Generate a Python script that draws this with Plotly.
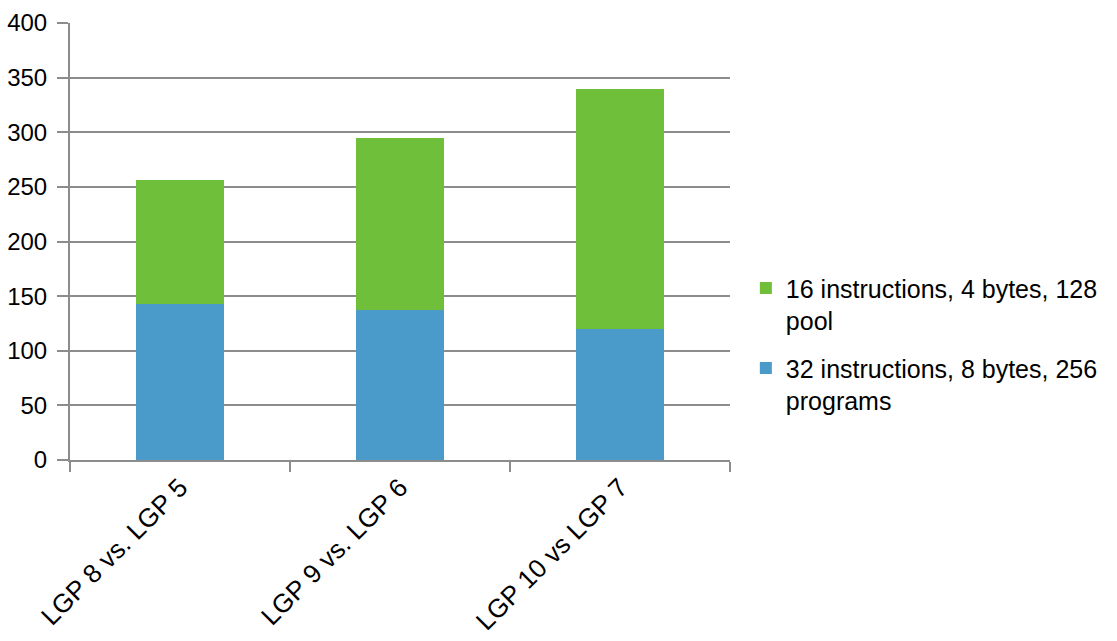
import plotly.graph_objects as go

categories = ["LGP 8 vs. LGP 5", "LGP 9 vs. LGP 6", "LGP 10 vs LGP 7"]
programs_32 = [143, 137, 120]
pool_16 = [113, 158, 220]
name_32 = "32 instructions, 8 bytes, 256<br>programs"
name_16 = "16 instructions, 4 bytes, 128<br>pool"
y_ticks = [0, 50, 100, 150, 200, 250, 300, 350, 400]

BLUE = "#4A9BC9"
GREEN = "#6FBF3A"
GRID = "#8C8C8C"
FONT = "Liberation Sans, Arial, sans-serif"

fig = go.Figure()
fig.add_trace(go.Bar(x=categories, y=programs_32, name=name_32, legendgroup="a",
                     legendrank=2,
                     marker=dict(color=BLUE, line=dict(width=0))))
fig.add_trace(go.Bar(x=categories, y=pool_16, name=name_16, legendgroup="b",
                     legendrank=1,
                     marker=dict(color=GREEN, line=dict(width=0))))

fig.update_layout(
    barmode="stack",
    bargap=0.6,
    width=1117, height=641,
    margin=dict(l=70, r=387, t=23, b=181, pad=0),
    paper_bgcolor="white", plot_bgcolor="white",
    font=dict(family=FONT, size=24, color="#000000"),
    legend=dict(
        x=1.024, xanchor="left", y=0.265, yanchor="middle",
        traceorder="grouped", valign="top",
        font=dict(size=25, family=FONT),
        tracegroupgap=12, itemwidth=30,
    ),
    xaxis=dict(
        type="category",
        automargin=False,
        tickangle=-45,
        tickson="boundaries",
        ticks="outside", ticklen=10, tickwidth=2, tickcolor=GRID,
        showline=True, linecolor=GRID, linewidth=2,
        showgrid=False,
        tickfont=dict(size=26, family=FONT),
    ),
    yaxis=dict(
        automargin=False,
        range=[0, 400],
        tickvals=y_ticks,
        ticks="outside", ticklen=11, tickwidth=2, tickcolor=GRID,
        showline=True, linecolor=GRID, linewidth=2,
        showgrid=True, gridcolor=GRID, gridwidth=2,
        zeroline=False,
        tickfont=dict(size=24, family=FONT),
        ticklabelstandoff=5,
    ),
)

fig.write_html("out.html")
